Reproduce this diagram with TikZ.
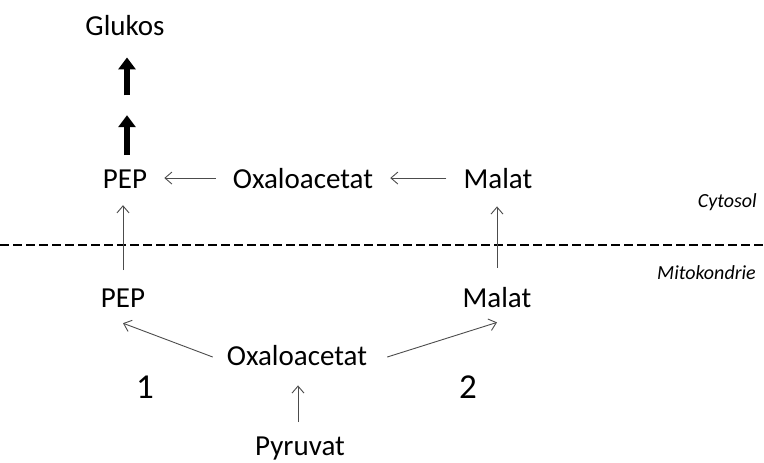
\documentclass[tikz,border=0pt]{standalone}
\usepackage{fontspec}
\setmainfont{Carlito}
\usetikzlibrary{arrows.meta}
\begin{document}
\begin{tikzpicture}[x=1pt,y=-1pt,
  lbl/.style={inner sep=0pt,anchor=base,font=\fontsize{29}{34}\selectfont,text=black},
  num/.style={inner sep=0pt,anchor=base,font=\fontsize{35}{40}\selectfont,text=black},
  reg/.style={inner sep=0pt,anchor=base east,font=\fontsize{20}{24}\selectfont\itshape,text=black},
  thin arrow/.style={draw=black!70,line width=0.9pt,-{Straight Barb[length=7pt,width=12pt]}},
  big arrow/.style={draw=black,line width=6pt,-{Triangle[length=12pt,width=17pt]}},
  sep/.style={draw=black,line width=2.6pt,dash pattern=on 9pt off 4pt}]
\useasboundingbox (0,0) rectangle (764,463);
% nodes
\node[lbl] (glu)  at (125,35)  {Glukos};
\node[lbl] (pep1) at (125,188) {PEP};
\node[lbl] (oxa1) at (303,188) {Oxaloacetat};
\node[lbl] (mal1) at (498,188) {Malat};
\node[lbl] (pep2) at (123,307) {PEP};
\node[lbl] (mal2) at (497,307) {Malat};
\node[lbl] (oxa2) at (297,365) {Oxaloacetat};
\node[lbl] (pyr)  at (300,455) {Pyruvat};
\node[num] (n1)   at (145,398) {1};
\node[num] (n2)   at (468,398) {2};
\node[reg] (cyt)  at (757,207) {Cytosol};
\node[reg] (mit)  at (756,279) {Mitokondrie};
% separator
\draw[sep] (0,245) -- (764,245);
% thick arrows
\draw[big arrow] ([xshift=2pt,yshift=14pt]pep1.north) -- ([xshift=2pt,yshift=54pt]pep1.north);
\draw[big arrow] ([xshift=2pt,yshift=-60pt]glu.south) -- ([xshift=2pt,yshift=-22pt]glu.south);
% thin arrows
\draw[thin arrow,shorten <=17pt,shorten >=17pt] (oxa1.west) -- (pep1.east |- oxa1.west);
\draw[thin arrow,shorten <=17pt,shorten >=17pt] (mal1.west) -- (oxa1.east |- mal1.west);
\draw[thin arrow,shorten <=18pt,shorten >=17pt] (pep2.north) -- (pep2.north |- pep1.south);
\draw[thin arrow,shorten <=19pt,shorten >=18pt] (mal2.north) -- (mal2.north |- mal1.south);
\draw[thin arrow] ([xshift=-14pt,yshift=-2pt]oxa2.west) -- ([yshift=-16pt]pep2.south);
\draw[thin arrow] ([xshift=20pt,yshift=-2pt]oxa2.east) -- ([yshift=-15pt]mal2.south);
\draw[thin arrow,shorten <=14pt,shorten >=20pt] ([xshift=-2pt]pyr.north) -- ([xshift=-2pt]pyr.north |- oxa2.south);
\end{tikzpicture}
\end{document}
